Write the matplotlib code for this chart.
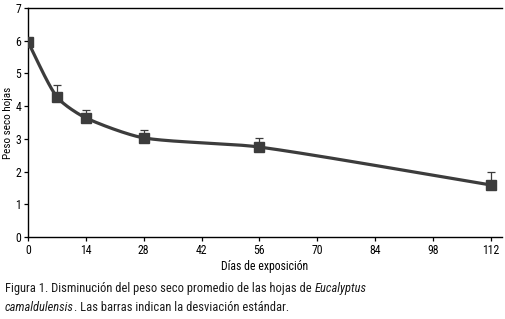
import numpy as np
import matplotlib
matplotlib.use("Agg")
import matplotlib.pyplot as plt

FONTS = ["Roboto Condensed", "Archivo Narrow", "Asap Condensed", "DejaVu Sans"]
plt.rcParams.update({
    "font.family": FONTS,
    "font.size": 8,
})

days = [0, 7, 14, 28, 56, 112]
peso = [5.96, 4.28, 3.64, 3.03, 2.75, 1.59]
err_up = [0.0, 0.37, 0.24, 0.24, 0.28, 0.40]
xticks = [0, 14, 28, 42, 56, 70, 84, 98, 112]
yticks = [0, 1, 2, 3, 4, 5, 6, 7]

LINE = "#3c3c3c"


def smooth(x, y, yscale=7.9, k=0.24, n=40):
    # smoothed line through the points, built in (roughly) screen proportions
    x = np.asarray(x, float); y = np.asarray(y, float) * yscale
    P = np.column_stack([x, y])
    m = len(P)
    tang = []
    for i in range(m):
        a = P[max(i - 1, 0)]; b = P[min(i + 1, m - 1)]
        d = b - a
        tang.append(d / np.linalg.norm(d))
    t = np.linspace(0, 1, n)[:, None]
    out = []
    for i in range(m - 1):
        p1, p2 = P[i], P[i + 1]
        L = np.linalg.norm(p2 - p1)
        c1 = p1 + tang[i] * L * k
        c2 = p2 - tang[i + 1] * L * k
        b = (1 - t) ** 3 * p1 + 3 * (1 - t) ** 2 * t * c1 + 3 * (1 - t) * t ** 2 * c2 + t ** 3 * p2
        out.append(b)
    out = np.vstack(out)
    return out[:, 0], out[:, 1] / yscale


fig = plt.figure(figsize=(5.06, 3.19), dpi=100)
ax = fig.add_axes([28 / 506, 82 / 319, 474 / 506, 229 / 319])

sx, sy = smooth(days, peso)
ax.plot(sx, sy, color=LINE, lw=2.3, solid_capstyle="round", zorder=2)
ax.errorbar(days, peso, yerr=[np.zeros(len(err_up)), err_up], fmt="none",
            ecolor=LINE, elinewidth=0.9, capsize=3, capthick=0.9, zorder=3)
ax.plot(days, peso, ls="none", marker="s", ms=6.5, color=LINE, zorder=4)

ax.set_xlim(0, 114.7)
ax.set_ylim(0, 7)
ax.set_xticks(xticks)
ax.set_yticks(yticks)
ax.spines["right"].set_visible(False)
for s in ("top", "left", "bottom"):
    ax.spines[s].set_linewidth(1.0)
    ax.spines[s].set_color("black")
ax.tick_params(direction="out", length=3, width=0.9, labelsize=8.5, pad=2)
ax.set_xlabel("Días de exposición", fontsize=8.5, labelpad=2)
ax.set_ylabel("Peso seco hojas", fontsize=8.0)
ax.yaxis.set_label_coords(-15 / 474, 0.5)

# caption, with italic species name, laid out piece by piece
renderer = fig.canvas.get_renderer()
lines = [
    [("Figura 1. Disminución del peso seco promedio de las hojas de ", "normal"),
     ("Eucalyptus", "italic")],
    [("camaldulensis", "italic"), (". Las barras indican la desviación estándar.", "normal")],
]
for row, yb in zip(lines, (292, 311)):
    x = 5
    for txt, style in row:
        t = fig.text(x / 506, 1 - yb / 319, txt, ha="left", va="baseline",
                     fontsize=9.0, style=style, color="#1a1a1a")
        x += t.get_window_extent(renderer).width

fig.savefig("out.png", dpi=100)
